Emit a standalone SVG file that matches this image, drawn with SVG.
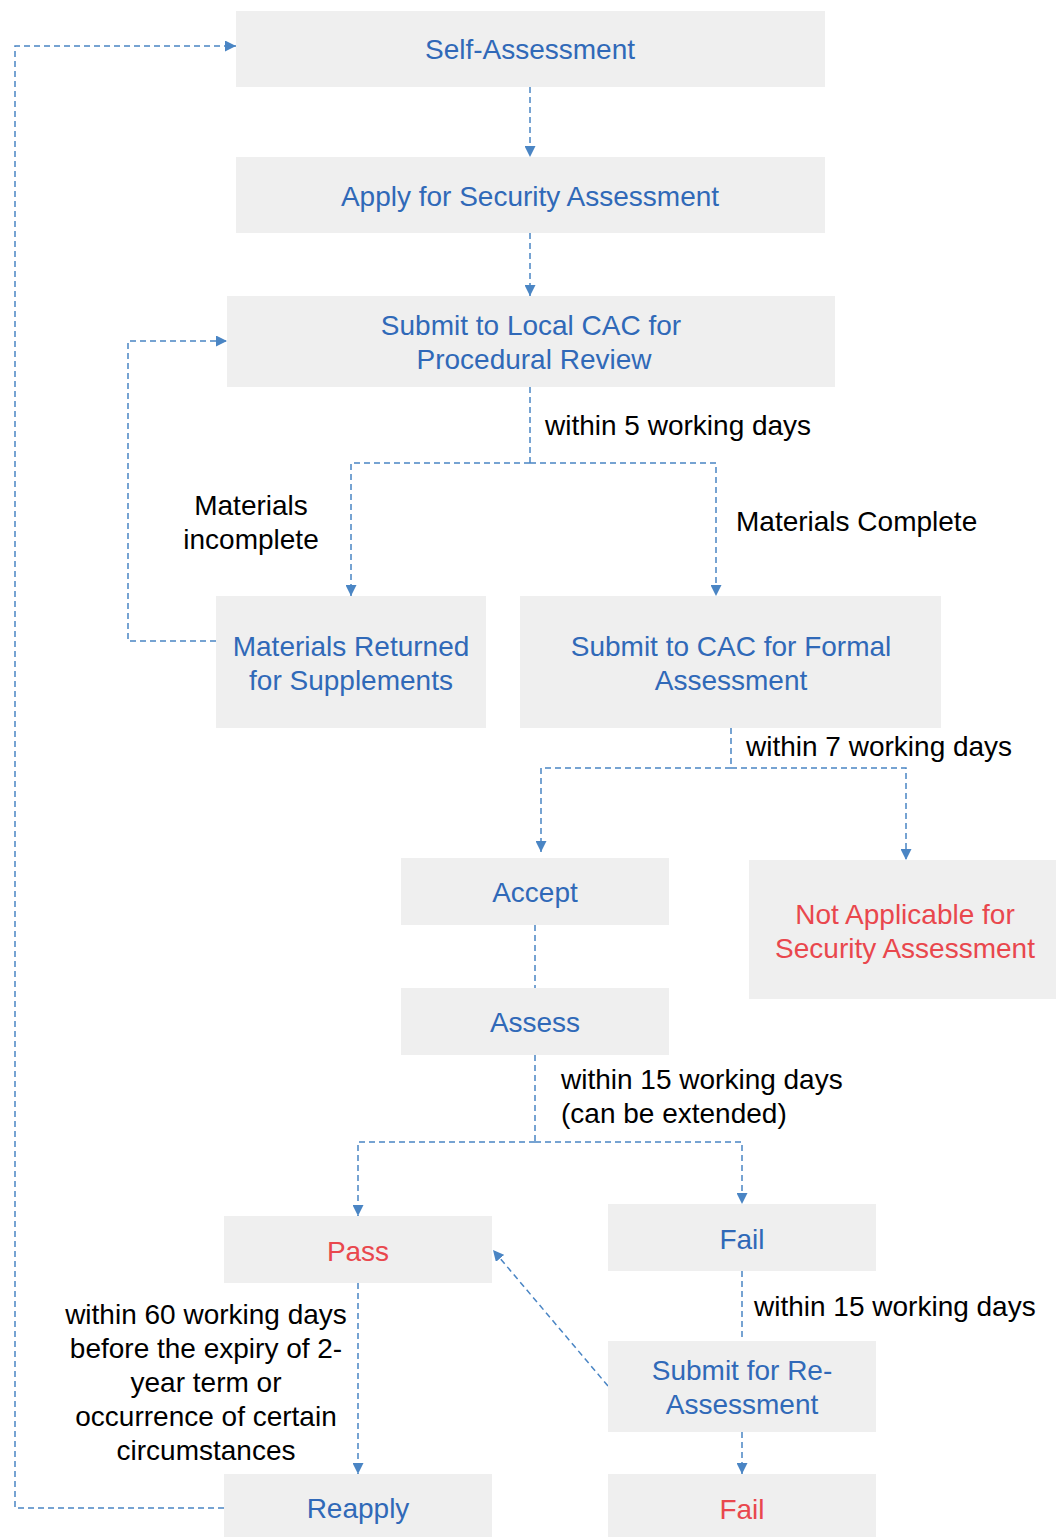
<svg xmlns="http://www.w3.org/2000/svg" width="1056" height="1537" viewBox="0 0 1056 1537">
<style>
.box{fill:#efefef}
.t{font-family:"Liberation Sans",Arial,sans-serif;font-size:28px;text-anchor:middle}
.b{fill:#3069b8}
.r{fill:#e9474d}
.k{fill:#000;font-family:"Liberation Sans",Arial,sans-serif;font-size:28px}
.c{fill:none;stroke:#4a85c4;stroke-width:1.5;stroke-dasharray:6 4}
</style>
<defs>
<marker id="ah" viewBox="0 0 10 10" refX="10" refY="5" markerWidth="11" markerHeight="11" markerUnits="userSpaceOnUse" orient="auto">
<path d="M0,0 L10,5 L0,10 z" fill="#4a85c4"/>
</marker>
</defs>
<rect width="1056" height="1537" fill="#fff"/>
<g id="connectors">
<path class="c" d="M224,1508 H15 V46 H236" marker-end="url(#ah)"/>
<path class="c" d="M530,87 V157" marker-end="url(#ah)"/>
<path class="c" d="M530,233 V296" marker-end="url(#ah)"/>
<path class="c" d="M530,387 V463"/>
<path class="c" d="M530,463 H351 V596" marker-end="url(#ah)"/>
<path class="c" d="M530,463 H716 V596" marker-end="url(#ah)"/>
<path class="c" d="M216,641 H128 V341 H227" marker-end="url(#ah)"/>
<path class="c" d="M731,728 V768"/>
<path class="c" d="M731,768 H541 V852" marker-end="url(#ah)"/>
<path class="c" d="M731,768 H906 V860" marker-end="url(#ah)"/>
<path class="c" d="M535,925 V988"/>
<path class="c" d="M535,1055 V1142"/>
<path class="c" d="M535,1142 H358 V1216" marker-end="url(#ah)"/>
<path class="c" d="M535,1142 H742 V1204" marker-end="url(#ah)"/>
<path class="c" d="M742,1271 V1341"/>
<path class="c" d="M742,1432 V1474" marker-end="url(#ah)"/>
<path class="c" d="M608,1386 L493,1250" marker-end="url(#ah)"/>
<path class="c" d="M358,1283 V1474" marker-end="url(#ah)"/>
</g>
<g id="self-assessment"><rect class="box" x="236" y="11" width="589" height="76"/><text class="t b" x="530" y="59">Self-Assessment</text></g>
<g id="apply"><rect class="box" x="236" y="157" width="589" height="76"/><text class="t b" x="530" y="206">Apply for Security Assessment</text></g>
<g id="submit-local"><rect class="box" x="227" y="296" width="608" height="91"/><text class="t b" x="531" y="335">Submit to Local CAC for</text><text class="t b" x="534" y="369">Procedural Review</text></g>
<g id="materials-returned"><rect class="box" x="216" y="596" width="270" height="132"/><text class="t b" x="351" y="656">Materials Returned</text><text class="t b" x="351" y="690">for Supplements</text></g>
<g id="submit-formal"><rect class="box" x="520" y="596" width="421" height="132"/><text class="t b" x="731" y="656">Submit to CAC for Formal</text><text class="t b" x="731" y="690">Assessment</text></g>
<g id="accept"><rect class="box" x="401" y="858" width="268" height="67"/><text class="t b" x="535" y="902">Accept</text></g>
<g id="not-applicable"><rect class="box" x="749" y="860" width="307" height="139"/><text class="t r" x="905" y="924">Not Applicable for</text><text class="t r" x="905" y="958">Security Assessment</text></g>
<g id="assess"><rect class="box" x="401" y="988" width="268" height="67"/><text class="t b" x="535" y="1032">Assess</text></g>
<g id="pass"><rect class="box" x="224" y="1216" width="268" height="67"/><text class="t r" x="358" y="1261">Pass</text></g>
<g id="fail-1"><rect class="box" x="608" y="1204" width="268" height="67"/><text class="t b" x="742" y="1249">Fail</text></g>
<g id="resubmit"><rect class="box" x="608" y="1341" width="268" height="91"/><text class="t b" x="742" y="1380">Submit for Re-</text><text class="t b" x="742" y="1414">Assessment</text></g>
<g id="reapply"><rect class="box" x="224" y="1474" width="268" height="63"/><text class="t b" x="358" y="1518">Reapply</text></g>
<g id="fail-2"><rect class="box" x="608" y="1474" width="268" height="63"/><text class="t r" x="742" y="1519">Fail</text></g>
<g id="labels">
<text class="k" x="545" y="435">within 5 working days</text>
<text class="k" x="251" y="515" text-anchor="middle">Materials</text>
<text class="k" x="251" y="549" text-anchor="middle">incomplete</text>
<text class="k" x="736" y="531">Materials Complete</text>
<text class="k" x="746" y="756">within 7 working days</text>
<text class="k" x="561" y="1089">within 15 working days</text>
<text class="k" x="561" y="1123">(can be extended)</text>
<text class="k" x="754" y="1316">within 15 working days</text>
<text class="k" x="206" y="1324" text-anchor="middle">within 60 working days</text>
<text class="k" x="206" y="1358" text-anchor="middle">before the expiry of 2-</text>
<text class="k" x="206" y="1392" text-anchor="middle">year term or</text>
<text class="k" x="206" y="1426" text-anchor="middle">occurrence of certain</text>
<text class="k" x="206" y="1460" text-anchor="middle">circumstances</text>
</g>
</svg>
